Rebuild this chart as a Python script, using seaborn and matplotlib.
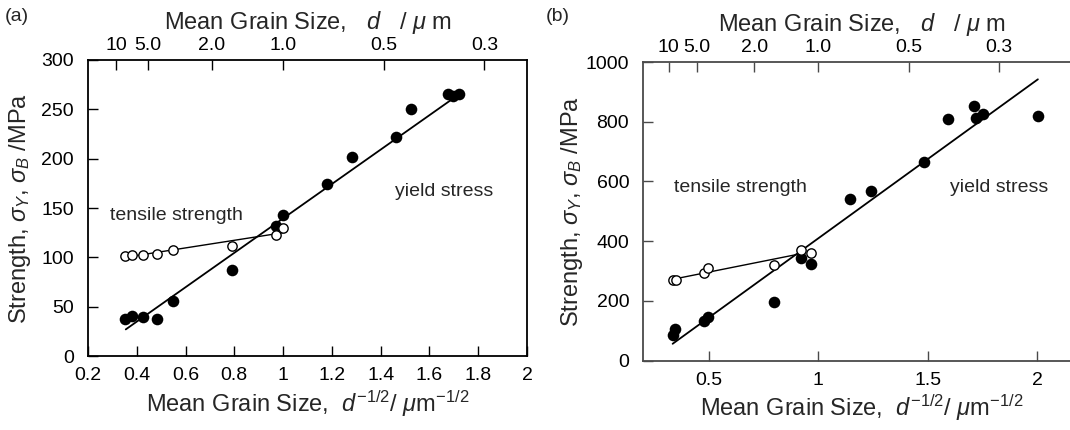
import numpy as np
import matplotlib
matplotlib.use("Agg")
import matplotlib.pyplot as plt
import seaborn as sns

# -----------------------------
# data (x = d^-1/2 in um^-1/2, y in MPa)
# -----------------------------
# panel (a)
a_yield_x = [0.352, 0.380, 0.424, 0.484, 0.550, 0.790, 0.970, 1.000,
             1.181, 1.284, 1.464, 1.523, 1.677, 1.698, 1.722]
a_yield_y = [38, 41, 40, 38, 56, 87, 132, 143,
             174, 202, 222, 250, 266, 264, 266]
a_tens_x = [0.352, 0.380, 0.424, 0.484, 0.550, 0.790, 0.970, 1.000]
a_tens_y = [101, 102, 102, 103, 107, 112, 123, 130]
a_yfit_x = [0.355, 1.703]
a_yfit_y = [27, 262]
a_tfit_x = [0.352, 1.000]
a_tfit_y = [100, 125]

# panel (b)
b_yield_x = [0.335, 0.347, 0.477, 0.497, 0.797, 0.920, 0.965,
             1.146, 1.243, 1.483, 1.592, 1.713, 1.721, 1.752, 2.003]
b_yield_y = [86, 106, 134, 145, 196, 344, 324,
             540, 567, 664, 809, 851, 811, 826, 818]
b_tens_x = [0.335, 0.350, 0.477, 0.495, 0.797, 0.920, 0.965]
b_tens_y = [270, 270, 293, 310, 321, 369, 361]
b_yfit_x = [0.335, 2.003]
b_yfit_y = [56, 942]
b_tfit_x = [0.335, 0.915]
b_tfit_y = [272, 357]

# top axis: grain size d in um
top_d = [10, 5, 2, 1, 0.5, 0.3]
top_labels = ["10", "5.0", "2.0", "1.0", "0.5", "0.3"]

sns.set_style("ticks")
plt.rcParams["font.family"] = ["Liberation Sans", "DejaVu Sans"]
plt.rcParams["mathtext.fontset"] = "custom"
plt.rcParams["mathtext.rm"] = "Liberation Sans"
plt.rcParams["mathtext.it"] = "Liberation Sans:italic"

fig = plt.figure(figsize=(10.7, 4.3), dpi=100)
ax_a = fig.add_axes([0.0822, 0.172, 0.4103, 0.6885])
ax_b = fig.add_axes([0.601, 0.1616, 0.4093, 0.6942])

xlab = r"Mean Grain Size,  $d^{-1/2}$/ $\mu$m$^{-1/2}$"
toplab = r"Mean Grain Size,   $d$   / $\mu$ m"
ylab = r"Strength, $\sigma_Y$, $\sigma_B$ /MPa"


def draw_panel(ax, yx, yy, tx, ty, yfx, yfy, tfx, tfy, xlim, ylim, xticks,
               yticks, spine_col, tpos, ypos, ylab_x):
    sns.lineplot(x=yfx, y=yfy, ax=ax, color="black", lw=1.3)
    sns.lineplot(x=tfx, y=tfy, ax=ax, color="black", lw=1.0)
    sns.scatterplot(x=yx, y=yy, ax=ax, color="black", s=70,
                    edgecolor="black", linewidth=0, zorder=3)
    sns.scatterplot(x=tx, y=ty, ax=ax, facecolor="white", s=45,
                    edgecolor="black", linewidth=1.0, zorder=4)
    ax.set_xlim(*xlim)
    ax.set_ylim(*ylim)
    ax.set_xticks(xticks)
    ax.set_xticklabels([("%g" % v) for v in xticks])
    ax.set_yticks(yticks)
    ax.tick_params(direction="in", length=7, width=1, labelsize=14,
                   colors=spine_col, labelcolor="black")
    ax.tick_params(axis="y", pad=10)
    ax.tick_params(axis="x", pad=8)
    for s in ax.spines.values():
        s.set_color(spine_col)
        s.set_linewidth(1.3)
    ax.set_xlabel(xlab, fontsize=17, labelpad=3)
    ax.set_ylabel(ylab, fontsize=17)
    ax.yaxis.set_label_coords(ylab_x, 0.5)
    ax.text(tpos[0], tpos[1], "tensile strength", fontsize=14)
    ax.text(ypos[0], ypos[1], "yield stress", fontsize=14)

    top = ax.twiny()
    top.set_xlim(*xlim)
    top.set_xticks(1 / np.sqrt(np.array(top_d)))
    top.set_xticklabels(top_labels)
    top.tick_params(direction="in", length=7, width=1, labelsize=14, pad=4,
                    colors=spine_col, labelcolor="black")
    for s in top.spines.values():
        s.set_visible(False)
    top.set_xlabel(toplab, fontsize=17, labelpad=6)


draw_panel(ax_a, a_yield_x, a_yield_y, a_tens_x, a_tens_y,
           a_yfit_x, a_yfit_y, a_tfit_x, a_tfit_y,
           (0.2, 2.0), (0, 300), [0.2, 0.4, 0.6, 0.8, 1, 1.2, 1.4, 1.6, 1.8, 2],
           [0, 50, 100, 150, 200, 250, 300], "black",
           (0.29, 138), (1.46, 162), -0.125)
ax_a.tick_params(right=False)

draw_panel(ax_b, b_yield_x, b_yield_y, b_tens_x, b_tens_y,
           b_yfit_x, b_yfit_y, b_tfit_x, b_tfit_y,
           (0.2, 2.2), (0, 1000), [0.5, 1, 1.5, 2],
           [0, 200, 400, 600, 800, 1000], "#4a4a4a",
           (0.34, 565), (1.6, 565), -0.132)

fig.text(0.004, 0.952, "(a)", fontsize=14)
fig.text(0.51, 0.952, "(b)", fontsize=14)

fig.savefig("out.png", dpi=100)
